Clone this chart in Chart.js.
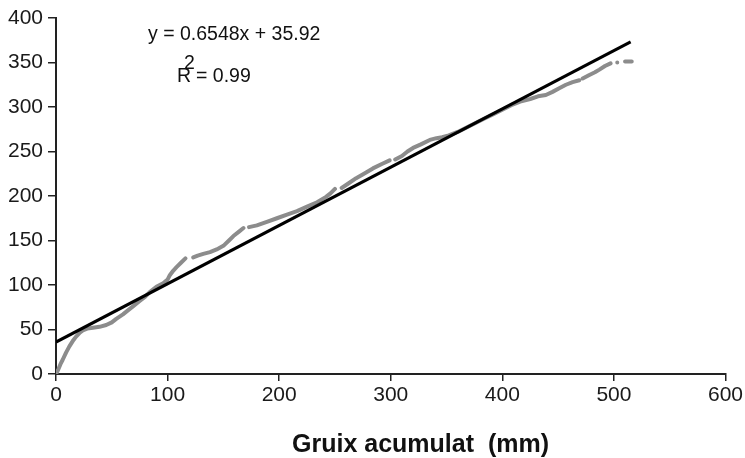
<!DOCTYPE html>
<html>
<head>
<meta charset="utf-8">
<script src="https://cdn.jsdelivr.net/npm/chart.js@4/dist/chart.umd.min.js"></script>
<style>
  html, body { margin: 0; padding: 0; background: #fff; }
  #wrap { width: 745px; height: 458px; }
</style>
</head>
<body>
<div id="wrap"><canvas id="c" width="745" height="458"></canvas></div>
<script>
// Measured series (gray): cumulative thickness (mm) vs value; null = gap
const grayX = [0,2,4,6,9,12,15,18,21,24,28,33,39,45,50,54,60,65,69,75,80,84,90,96,100,102,105,108,112,116,null,
  123,127,132,138,144,150,155,159,164,168,null,
  173,180,189,198,207,216,225,234,242,246,250,null,
  256,262,269,276,284,292,299,null,
  304,310,315,320,327,335,341,346,352,360,368,376,384,392,400,408,416,425,432,439,445,451,457,463,469,null,
  472,478,483,487,492,497,null,503,null,510,516];
const grayY = [0,5,11,16,24,31,37,42,46,49,51,52,53,55,58,62,67,72,76,82,87,92,98,102,106,111,116,120,125,130,null,
  131,133,135,137,140,144,150,155,160,164,null,
  165,167,171,175,179,183,188,193,199,203,208,null,
  209,214,220,225,231,236,240,null,
  241,245,250,254,258,263,265,266,268,272,277,282,287,292,297,302,306,309,312,313.5,317,321,325,328,330,null,
  332,336,339,342,346,349,null,350,null,351,351];

// Linear trend line end points (y = 0.6548x + 35.92)
const trendX = [0, 515];
const trendY = [35.9, 373.1];

// Axis ticks
const xTicks = [0,100,200,300,400,500,600];
const yTicks = [0,50,100,150,200,250,300,350,400];

const equationText = 'y = 0.6548x + 35.92';
const r2Base = 'R';
const r2Sup = '2';
const r2Rest = '= 0.99';
const xTitle = 'Gruix acumulat  (mm)';

const grayData = grayX.map((x, i) => (x === null ? {x: NaN, y: null} : {x: x, y: grayY[i]}));
const trendData = trendX.map((x, i) => ({x: x, y: trendY[i]}));

const FONT = "'Liberation Sans', Arial, Helvetica, sans-serif";

const annot = {
  id: 'annot',
  afterDraw(chart) {
    const ctx = chart.ctx;
    ctx.save();
    ctx.fillStyle = '#111';
    ctx.textBaseline = 'alphabetic';
    ctx.textAlign = 'left';
    ctx.font = '19.5px ' + FONT;
    ctx.fillText(equationText, 148, 40);
    ctx.fillText(r2Base, 177, 82);
    ctx.fillText(r2Sup, 184, 69);
    ctx.fillText(r2Rest, 196, 82);
    ctx.font = 'bold 25px ' + FONT;
    ctx.fillText(xTitle, 292, 452);
    ctx.restore();
  }
};

new Chart(document.getElementById('c'), {
  type: 'scatter',
  data: {
    datasets: [
      {
        label: 'trend',
        data: trendData,
        showLine: true,
        borderColor: '#000',
        borderWidth: 3,
        pointRadius: 0,
        fill: false
      },
      {
        label: 'data',
        data: grayData,
        showLine: true,
        spanGaps: false,
        borderColor: '#8c8c8c',
        borderWidth: 4,
        borderCapStyle: 'round',
        borderJoinStyle: 'round',
        pointRadius: 0,
        fill: false
      }
    ]
  },
  options: {
    responsive: false,
    animation: false,
    devicePixelRatio: 1,
    layout: { padding: { left: 0, right: 18, top: 18, bottom: 0 } },
    plugins: { legend: { display: false }, tooltip: { enabled: false } },
    scales: {
      x: {
        type: 'linear',
        min: 0, max: 600,
        afterBuildTicks: (s) => { s.ticks = xTicks.map(v => ({value: v})); },
        afterFit: (s) => { s.height = 84; },
        grid: { drawOnChartArea: false, drawTicks: true, tickLength: 7, color: '#222', lineWidth: 1.5 },
        border: { display: true, color: '#222', width: 2 },
        ticks: { color: '#1a1a1a', font: { family: FONT, size: 21 }, padding: 2, maxRotation: 0 }
      },
      y: {
        type: 'linear',
        min: 0, max: 400,
        afterBuildTicks: (s) => { s.ticks = yTicks.map(v => ({value: v})); },
        afterFit: (s) => { s.width = 56; },
        grid: { drawOnChartArea: false, drawTicks: true, tickLength: 8, color: '#222', lineWidth: 1.5 },
        border: { display: true, color: '#222', width: 2 },
        ticks: { color: '#1a1a1a', font: { family: FONT, size: 21 }, padding: 5 }
      }
    }
  },
  plugins: [annot]
});
</script>
</body>
</html>
